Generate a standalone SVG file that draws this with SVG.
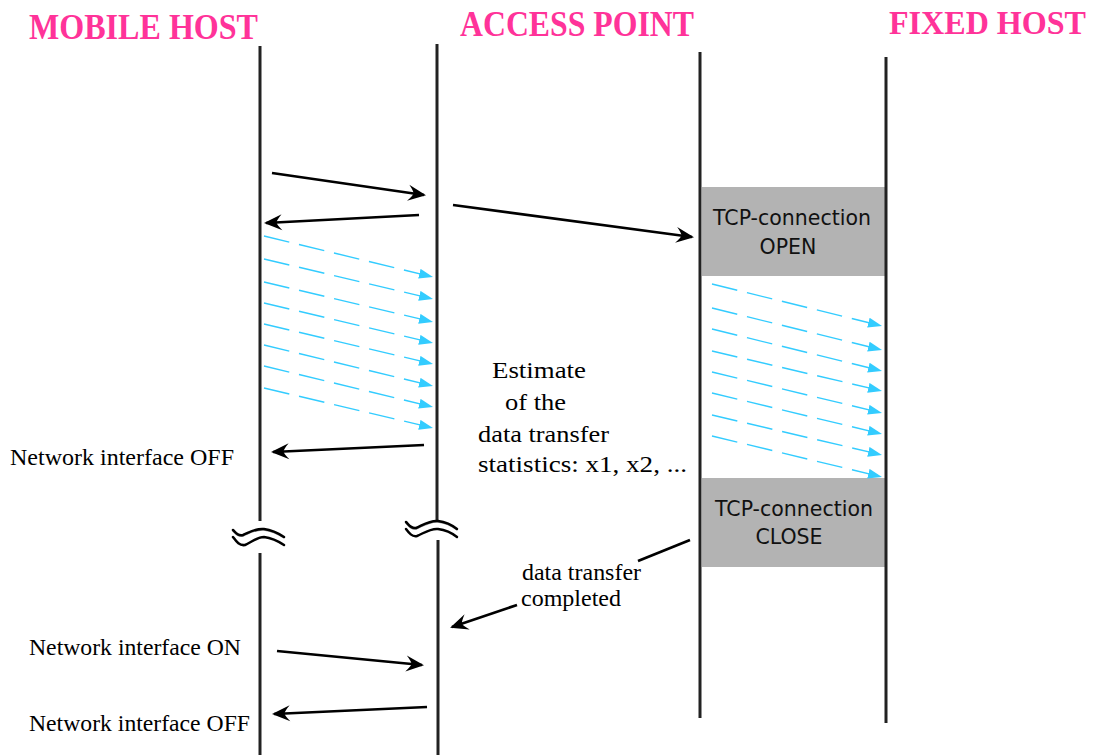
<svg xmlns="http://www.w3.org/2000/svg" width="1096" height="755" viewBox="0 0 1096 755">
  <style>
    .title { font-family: "Liberation Serif", "Times New Roman", serif; font-weight: bold; font-size: 36px; fill: #FF3399; }
    .label { font-family: "Liberation Serif", "Times New Roman", serif; font-size: 23px; fill: #000; }
    .box-text { font-family: "DejaVu Sans", Verdana, sans-serif; font-size: 20.5px; fill: #111; text-anchor: middle; }
    .life { stroke: #222; stroke-width: 3; fill: none; }
    .box { fill: #B3B3B3; }
    .msg { stroke: #000; stroke-width: 2.7; fill: none; marker-end: url(#ah); }
    .plain { stroke: #000; stroke-width: 2.7; fill: none; }
    .data { stroke: #33CCFF; stroke-width: 1.4; fill: none; stroke-dasharray: 26 10; marker-end: url(#ch); }
    .brk { stroke: #000; stroke-width: 2.5; fill: none; stroke-linecap: round; }
    .brk-shadow { stroke: #999; stroke-width: 1.5; fill: none; }
  </style>
  <defs>
    <!-- barbed black arrowhead for message arrows -->
    <marker id="ah" markerUnits="userSpaceOnUse" markerWidth="20" markerHeight="18" viewBox="0 0 20 18" refX="17" refY="9" orient="auto">
      <path d="M19,9 L1,1 Q6,6.5 6.5,9 Q6,11.5 1,17 Z" fill="#000"/>
    </marker>
    <!-- small filled cyan arrowhead for data packets -->
    <marker id="ch" markerUnits="userSpaceOnUse" markerWidth="15" markerHeight="11" viewBox="0 0 15 11" refX="14" refY="5.5" orient="auto">
      <path d="M14,5.5 L0,0.5 L0,10.5 Z" fill="#33CCFF"/>
    </marker>
  </defs>

  <rect width="1096" height="755" fill="#fff"/>

  <!-- grey TCP phase boxes (under the lifelines) -->
  <g id="tcp-open">
    <rect class="box" x="702" y="187" width="183" height="89"/>
    <text class="box-text" x="792" y="225">TCP-connection</text>
    <text class="box-text" x="788" y="254">OPEN</text>
  </g>
  <g id="tcp-close">
    <rect class="box" x="702" y="478" width="183" height="89"/>
    <text class="box-text" x="794" y="516">TCP-connection</text>
    <text class="box-text" x="789" y="544">CLOSE</text>
  </g>

  <!-- lifelines -->
  <g id="mobile-host">
    <text class="title" x="29" y="39" textLength="229" lengthAdjust="spacingAndGlyphs">MOBILE HOST</text>
    <line class="life" x1="260" y1="46" x2="260" y2="521"/>
    <line class="life" x1="260" y1="553" x2="260" y2="755"/>
    <path class="brk-shadow" d="M233,531 C236,534 238,537 243,536 C250,533 256,529 264,530 C272,531 278,534 284,538"/>
    <path class="brk" d="M233,530 C236,533 238,536 243,535 C250,532 256,528 264,529 C272,530 278,533 284,537"/>
    <path class="brk" d="M233,537 C236,541 239,546 245,545 C252,542 257,537 264,537 C272,538 278,541 284,545"/>
  </g>
  <g id="access-point">
    <text class="title" x="460" y="36" textLength="234" lengthAdjust="spacingAndGlyphs">ACCESS POINT</text>
    <line class="life" x1="437" y1="44" x2="437" y2="522"/>
    <line class="life" x1="438" y1="540" x2="438" y2="755"/>
    <path class="brk-shadow" d="M406,523 C409,526 411,530 416,529 C423,526 430,521 438,522 C446,523 452,526 457,530"/>
    <path class="brk" d="M406,522 C409,525 411,529 416,528 C423,525 430,520 438,521 C446,522 452,525 457,529"/>
    <path class="brk" d="M406,529 C409,533 412,537 417,536 C424,533 431,528 438,529 C446,530 452,533 457,537"/>
  </g>
  <g id="fixed-host-side">
    <line class="life" x1="700" y1="52" x2="700" y2="718"/>
  </g>
  <g id="fixed-host">
    <text class="title" x="889" y="34" font-size="33" textLength="197" lengthAdjust="spacingAndGlyphs" style="font-size:33px">FIXED HOST</text>
    <line class="life" x1="886" y1="57" x2="886" y2="723"/>
  </g>

  <!-- annotations -->
  <g id="labels">
    <text class="label" x="10" y="465" textLength="224" lengthAdjust="spacingAndGlyphs">Network interface OFF</text>
    <text class="label" x="492" y="378" textLength="94" lengthAdjust="spacingAndGlyphs">Estimate</text>
    <text class="label" x="505" y="410" textLength="61" lengthAdjust="spacingAndGlyphs">of the</text>
    <text class="label" x="478" y="442" textLength="131" lengthAdjust="spacingAndGlyphs">data transfer</text>
    <text class="label" x="478" y="472" textLength="209" lengthAdjust="spacingAndGlyphs">statistics: x1, x2, ...</text>
    <text class="label" x="522" y="580" textLength="119" lengthAdjust="spacingAndGlyphs">data transfer</text>
    <text class="label" x="521" y="606" textLength="100" lengthAdjust="spacingAndGlyphs">completed</text>
    <text class="label" x="29" y="655" textLength="212" lengthAdjust="spacingAndGlyphs">Network interface ON</text>
    <text class="label" x="29" y="731" textLength="221" lengthAdjust="spacingAndGlyphs">Network interface OFF</text>
  </g>

  <!-- connectors -->
  <g id="connectors">
    <line class="msg" x1="272" y1="173" x2="424" y2="195"/>
    <line class="msg" x1="419" y1="215" x2="266" y2="223"/>
    <line class="msg" x1="453" y1="205" x2="692" y2="237"/>
    <line class="msg" x1="424" y1="445" x2="273" y2="452"/>
    <line class="plain" x1="690" y1="540" x2="638" y2="561"/>
    <line class="msg" x1="517" y1="605" x2="452" y2="627"/>
    <line class="msg" x1="277" y1="651" x2="422" y2="665"/>
    <line class="msg" x1="427" y1="707" x2="274" y2="714"/>

    <!-- data packets, mobile host to access point -->
    <line class="data" x1="264" y1="236" x2="433" y2="277"/>
    <line class="data" x1="264" y1="259" x2="433" y2="299"/>
    <line class="data" x1="264" y1="282" x2="433" y2="322"/>
    <line class="data" x1="264" y1="303" x2="433" y2="343"/>
    <line class="data" x1="264" y1="324" x2="433" y2="364"/>
    <line class="data" x1="264" y1="345" x2="433" y2="386"/>
    <line class="data" x1="264" y1="366" x2="433" y2="407"/>
    <line class="data" x1="264" y1="388" x2="433" y2="428"/>

    <!-- data packets, toward fixed host -->
    <line class="data" x1="712" y1="284" x2="882" y2="326"/>
    <line class="data" x1="712" y1="308" x2="882" y2="350"/>
    <line class="data" x1="712" y1="329" x2="882" y2="371"/>
    <line class="data" x1="712" y1="351" x2="882" y2="391"/>
    <line class="data" x1="712" y1="372" x2="882" y2="413"/>
    <line class="data" x1="712" y1="393" x2="882" y2="434"/>
    <line class="data" x1="712" y1="415" x2="882" y2="455"/>
    <line class="data" x1="712" y1="436" x2="882" y2="477"/>
  </g>
</svg>
